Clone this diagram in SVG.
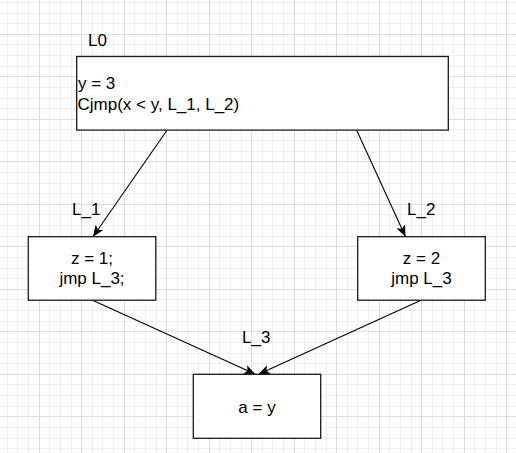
<svg xmlns="http://www.w3.org/2000/svg" width="516" height="453" viewBox="0 0 516 453">
<style>
.minor{stroke:#efefef;stroke-width:1;fill:none}
.major{stroke:#dcdcdc;stroke-width:1;fill:none}
.box{fill:#ffffff;stroke:#1a1a1a;stroke-width:1.3}
.t{font-family:"Liberation Sans",Arial,sans-serif;font-size:17px;fill:#000000}
.c{text-anchor:middle}
.edge{stroke:#000000;stroke-width:1.1;fill:none;marker-end:url(#arr)}
</style>
<defs>
<marker id="arr" markerUnits="userSpaceOnUse" viewBox="0 0 11.5 9.5" refX="11.5" refY="4.75" markerWidth="11.5" markerHeight="9.5" orient="auto">
<path d="M0,0 L11.5,4.75 L0,9.5 L2.9,4.75 Z" fill="#000000"/>
</marker>
</defs>
<rect x="0" y="0" width="516" height="453" fill="#ffffff"/>
<g id="grid">
<path class="minor" d="M7.5,0V453M17.5,0V453M28.5,0V453M49.5,0V453M60.5,0V453M71.5,0V453M92.5,0V453M102.5,0V453M113.5,0V453M134.5,0V453M145.5,0V453M156.5,0V453M177.5,0V453M187.5,0V453M198.5,0V453M219.5,0V453M230.5,0V453M241.5,0V453M262.5,0V453M272.5,0V453M283.5,0V453M304.5,0V453M315.5,0V453M326.5,0V453M347.5,0V453M357.5,0V453M368.5,0V453M389.5,0V453M400.5,0V453M411.5,0V453M432.5,0V453M442.5,0V453M453.5,0V453M474.5,0V453M485.5,0V453M496.5,0V453"/>
<path class="minor" d="M0,2.5H516M0,13.5H516M0,23.5H516M0,44.5H516M0,55.5H516M0,66.5H516M0,87.5H516M0,98.5H516M0,108.5H516M0,129.5H516M0,140.5H516M0,151.5H516M0,172.5H516M0,183.5H516M0,193.5H516M0,214.5H516M0,225.5H516M0,236.5H516M0,257.5H516M0,268.5H516M0,278.5H516M0,299.5H516M0,310.5H516M0,321.5H516M0,342.5H516M0,353.5H516M0,363.5H516M0,384.5H516M0,395.5H516M0,406.5H516M0,427.5H516M0,438.5H516M0,448.5H516"/>
<path class="major" d="M39.5,0V453M81.5,0V453M124.5,0V453M166.5,0V453M209.5,0V453M251.5,0V453M294.5,0V453M336.5,0V453M379.5,0V453M421.5,0V453M464.5,0V453M506.5,0V453"/>
<path class="major" d="M0,34.5H516M0,76.5H516M0,119.5H516M0,161.5H516M0,204.5H516M0,246.5H516M0,289.5H516M0,331.5H516M0,374.5H516M0,416.5H516"/>
</g>
<g id="connectors">
<path class="edge" d="M167,130.3L93,236.7"/>
<path class="edge" d="M356.7,130.3L405.5,236.7"/>
<path class="edge" d="M92,300L255.5,374.3"/>
<path class="edge" d="M421.5,300L258.5,374.3"/>
</g>
<g id="L0">
<rect class="box" x="76.7" y="56.5" width="371.6" height="73.6"/>
<text class="t" x="88" y="45.7">L0</text>
<text class="t" x="78" y="89.3">y = 3</text>
<text class="t" x="77.5" y="109.5">Cjmp(x &lt; y, L_1, L_2)</text>
</g>
<g id="L_1">
<rect class="box" x="28.3" y="236.7" width="127.5" height="63.5"/>
<text class="t" x="72" y="215">L_1</text>
<text class="t c" x="92" y="264">z = 1;</text>
<text class="t c" x="92" y="284.3">jmp L_3;</text>
</g>
<g id="L_2">
<rect class="box" x="357.7" y="236.7" width="127.6" height="63.5"/>
<text class="t" x="407" y="215">L_2</text>
<text class="t c" x="421.5" y="264">z = 2</text>
<text class="t c" x="421.5" y="284.3">jmp L_3</text>
</g>
<g id="L_3">
<rect class="box" x="193.3" y="374.3" width="127.4" height="64"/>
<text class="t" x="242" y="342.7">L_3</text>
<text class="t c" x="257" y="413.3">a = y</text>
</g>
</svg>
